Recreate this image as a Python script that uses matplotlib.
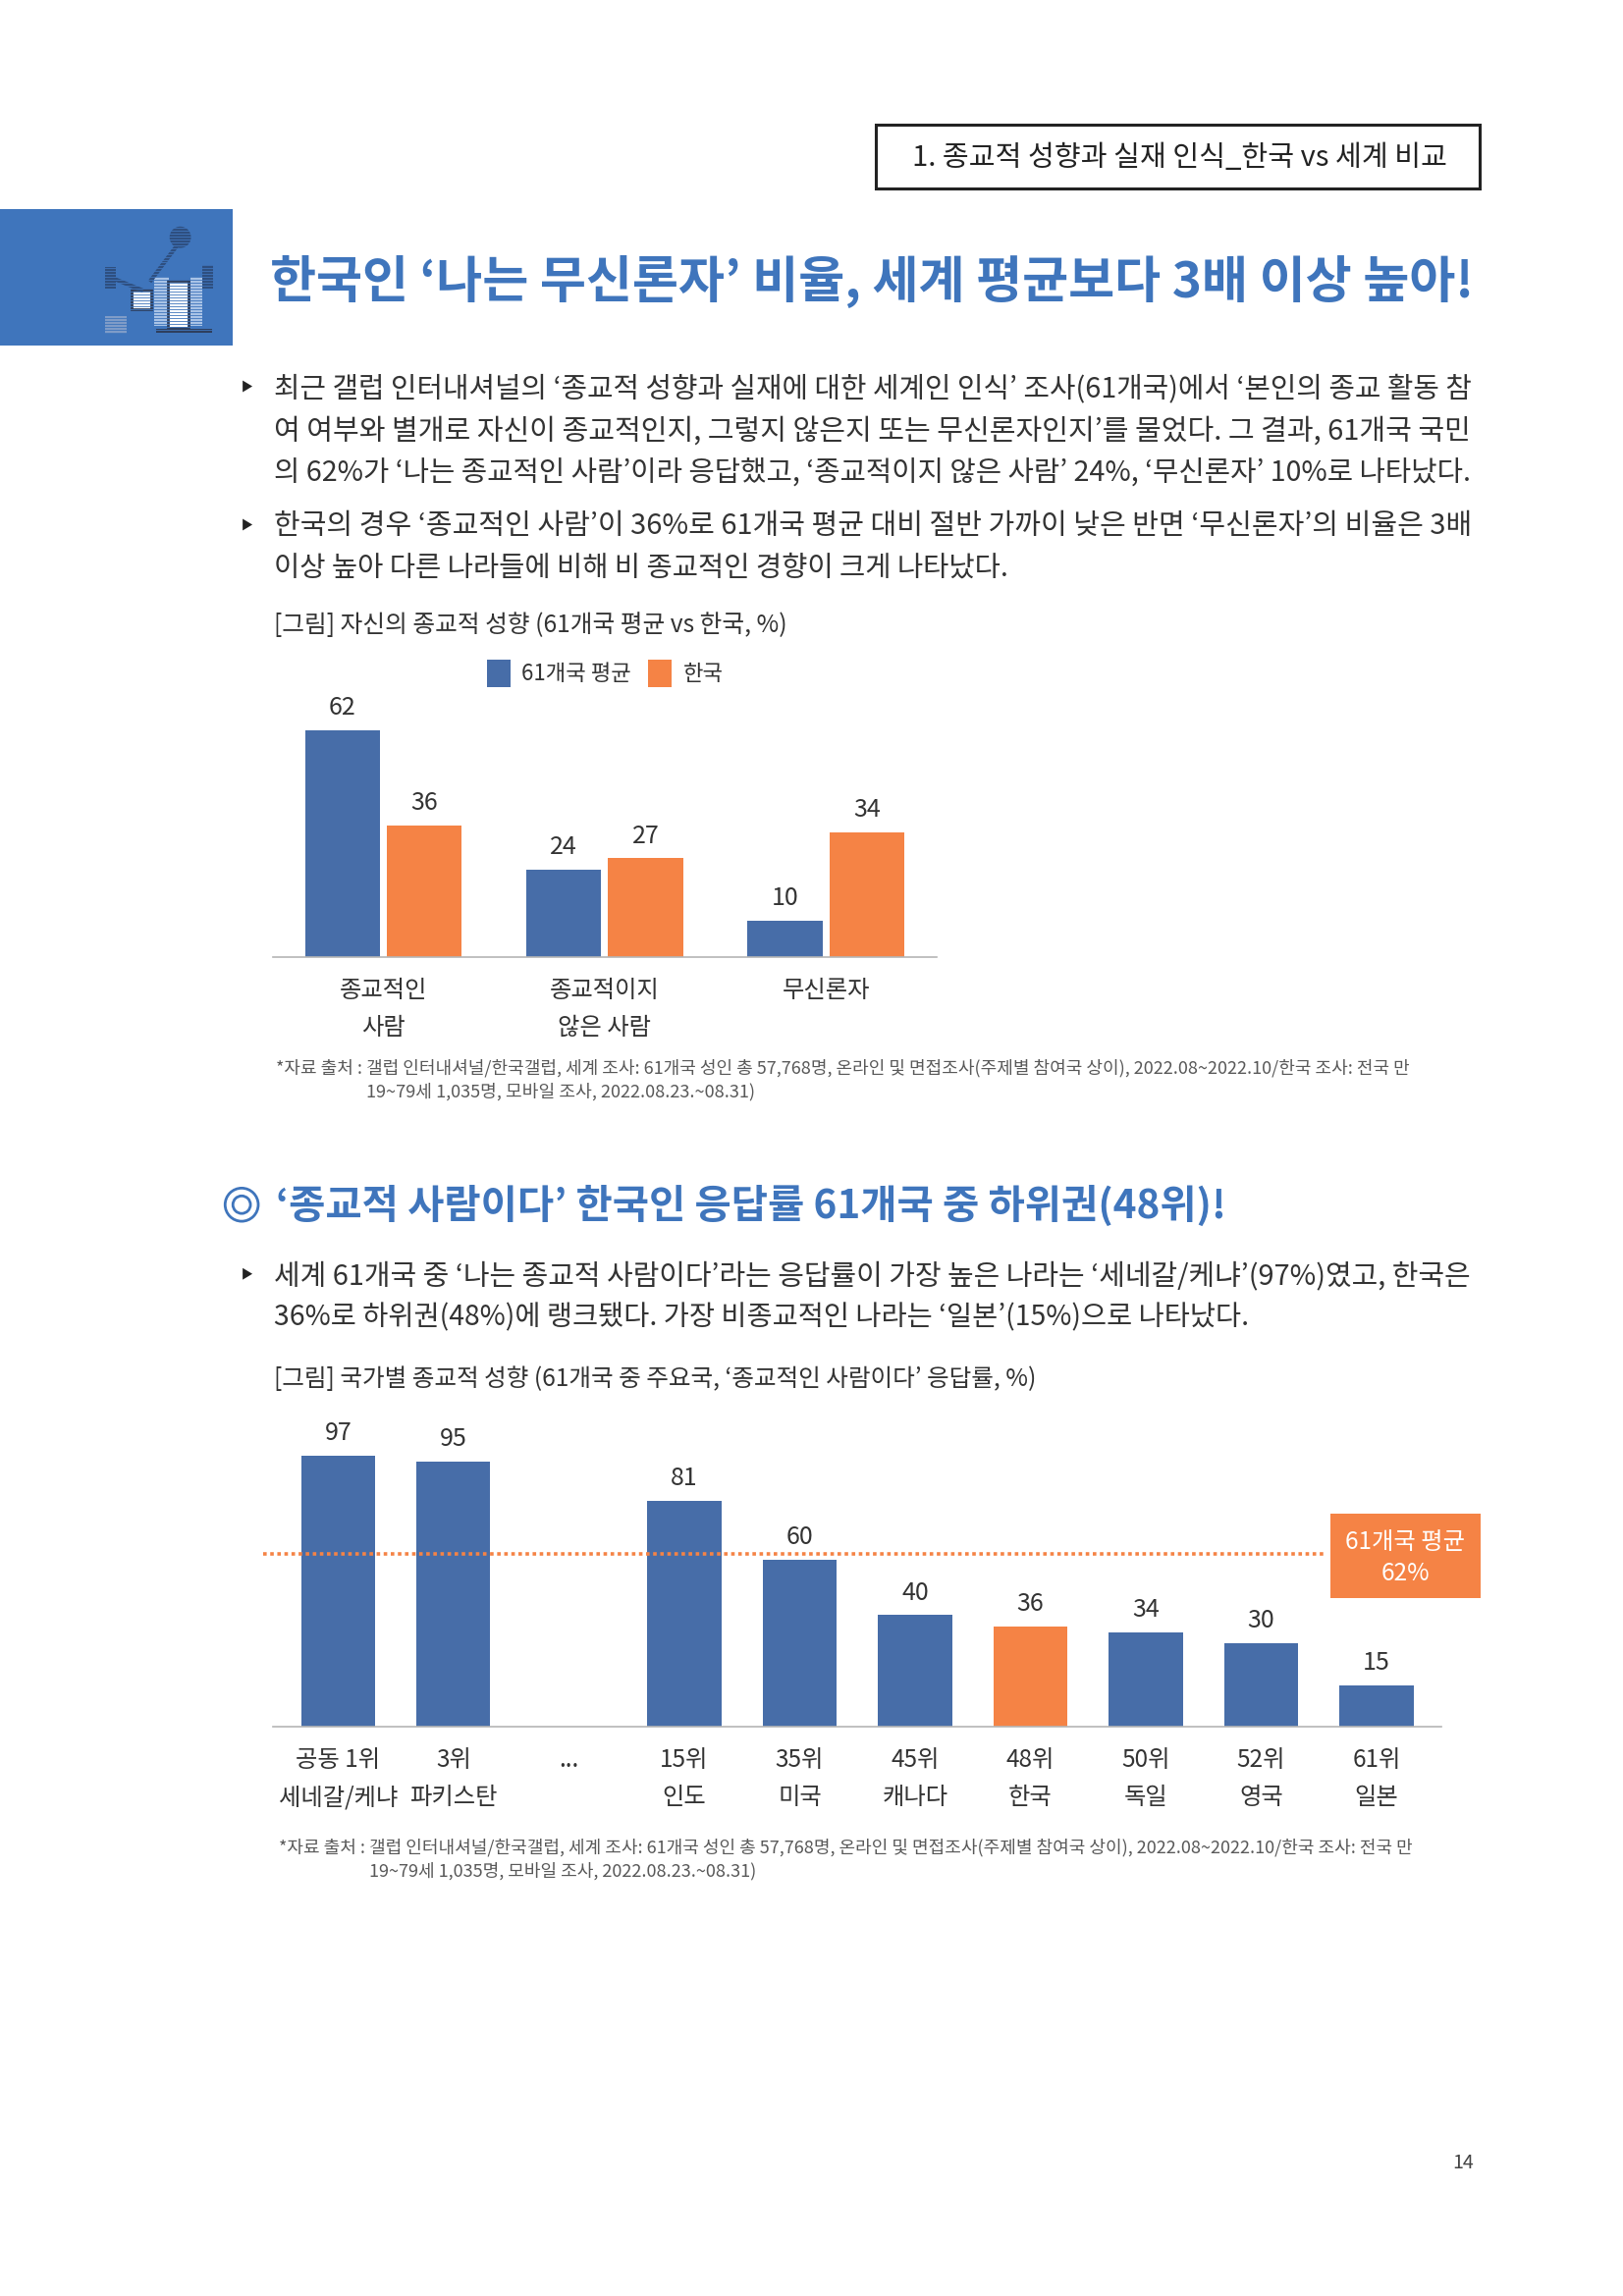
import matplotlib
matplotlib.use('Agg')
import matplotlib.pyplot as plt
from matplotlib.patches import Rectangle, Circle, Polygon
import numpy as np

plt.rcParams['font.family'] = ['Noto Sans CJK KR', 'DejaVu Sans']

W, H = 1653, 2339
S = 0.9925  # page coordinates below were read at a slightly larger scale
OY = 2.5
BLUE = '#476DA8'
ORANGE = '#F58345'
HEAD_BLUE = '#3F75BC'
TEXT = '#333333'
NOTE = '#595959'

# first chart
group_labels = ['종교적인\n사람', '종교적이지\n않은 사람', '무신론자']
series_names = ['61개국 평균', '한국']
world_values = [62, 24, 10]
korea_values = [36, 27, 34]

# second chart
rank_labels = ['공동 1위\n세네갈/케냐', '3위\n파키스탄', '...', '15위\n인도', '35위\n미국',
               '45위\n캐나다', '48위\n한국', '50위\n독일', '52위\n영국', '61위\n일본']
rank_values = [97, 95, np.nan, 81, 60, 40, 36, 34, 30, 15]
highlight = '48위\n한국'
world_average = 62

body_1 = [
    ('최근 갤럽 인터내셔널의 ‘종교적 성향과 실재에 대한 세계인 인식’ 조사(61개국)에서 ‘본인의 종교 활동 참', 1508, 397),
    ('여 여부와 별개로 자신이 종교적인지, 그렇지 않은지 또는 무신론자인지’를 물었다. 그 결과, 61개국 국민', 1508, 440),
    ('의 62%가 ‘나는 종교적인 사람’이라 응답했고, ‘종교적이지 않은 사람’ 24%, ‘무신론자’ 10%로 나타났다.', 1508, 483),
    ('한국의 경우 ‘종교적인 사람’이 36%로 61개국 평균 대비 절반 가까이 낮은 반면 ‘무신론자’의 비율은 3배', 1508, 538),
    ('이상 높아 다른 나라들에 비해 비 종교적인 경향이 크게 나타났다.', 1034, 580),
]
body_2 = [
    ('세계 61개국 중 ‘나는 종교적 사람이다’라는 응답률이 가장 높은 나라는 ‘세네갈/케냐’(97%)였고, 한국은', 1509, 1308),
    ('36%로 하위권(48%)에 랭크됐다. 가장 비종교적인 나라는 ‘일본’(15%)으로 나타났다.', 1279, 1350),
]
note_1 = '*자료 출처 : 갤럽 인터내셔널/한국갤럽, 세계 조사: 61개국 성인 총 57,768명, 온라인 및 면접조사(주제별 참여국 상이), 2022.08~2022.10/한국 조사: 전국 만'
note_2 = '19~79세 1,035명, 모바일 조사, 2022.08.23.~08.31)'

fig = plt.figure(figsize=(W / 100, H / 100), dpi=100)
renderer = fig.canvas.get_renderer()

page = fig.add_axes([0, 0, 1, 1])
page.set_xlim(0, W / S)
page.set_ylim((H - OY) / S, -OY / S)
page.axis('off')


def fit(s, x0, x1, y, size=20, color=TEXT, weight='light'):
    # one line of text, font size scaled so it spans x0..x1
    t = page.text(x0, y, s, fontsize=size, color=color, weight=weight, va='center', ha='left')
    t.set_fontsize(size * (x1 - x0) * S / t.get_window_extent(renderer).width)
    return t


def px_axes(left, top, right, bottom):
    left, right = left * S, right * S
    top, bottom = top * S + OY, bottom * S + OY
    ax = fig.add_axes([left / W, 1 - bottom / H, (right - left) / W, (bottom - top) / H])
    ax.patch.set_alpha(0)
    for side in ['top', 'left', 'right']:
        ax.spines[side].set_visible(False)
    ax.spines['bottom'].set_color('#b5b5b5')
    ax.spines['bottom'].set_linewidth(1.2)
    ax.set_yticks([])
    return ax


# header
page.add_patch(Rectangle((899, 125), 619, 66, fc='white', ec='#222222', lw=2.2))
fit('1. 종교적 성향과 실재 인식_한국 vs 세계 비교', 936, 1484, 160, color='#222222', weight='normal')

# blue tab with icon
page.add_patch(Rectangle((0, 212), 239, 140, fc=HEAD_BLUE, ec='none'))
page.plot([185, 155], [245, 285], color='#2E4F80', lw=3)
page.plot([113, 145], [282, 295], color='#2E4F80', lw=3)
page.add_patch(Circle((185, 241), 11, fc='#2E4F80', ec='none'))
page.add_patch(Rectangle((108, 272), 11, 22, fc='#2E4F80', ec='none'))
page.add_patch(Rectangle((208, 270), 11, 24, fc='#2E4F80', ec='none'))
page.add_patch(Rectangle((158, 282), 15, 50, fc='#A9C3E6', ec='none'))
page.add_patch(Rectangle((195, 282), 13, 50, fc='#A9C3E6', ec='none'))
page.add_patch(Rectangle((172, 286), 21, 48, fc='white', ec='#2E3F5E', lw=2))
page.add_patch(Rectangle((135, 295), 20, 20, fc='white', ec='#2E3F5E', lw=2))
page.add_patch(Rectangle((108, 322), 22, 18, fc='#7F9CC8', ec='none'))
page.add_patch(Rectangle((160, 335), 58, 4, fc='#2E3F5E', ec='none'))
# scan lines over the icon, the source image is badly interlaced
for y in np.arange(228, 344, 3):
    page.plot([100, 226], [y, y], color=HEAD_BLUE, lw=0.6)

fit('한국인 ‘나는 무신론자’ 비율, 세계 평균보다 3배 이상 높아!', 277, 1514, 287, size=36, color=HEAD_BLUE, weight='bold')

for s, x1, y in body_1 + body_2:
    fit(s, 281, x1, y)
for y in [394, 536, 1305]:
    page.add_patch(Polygon([[249, y - 6], [249, y + 6], [259, y]], fc='#222222', ec='none'))

fit('[그림] 자신의 종교적 성향 (61개국 평균 vs 한국, %)', 281, 807, 639)
fit(note_1, 283, 1444, 1094, color=NOTE)
fit(note_2, 376, 775, 1118, color=NOTE)

# section two heading
page.add_patch(Circle((248, 1234), 17, fc='none', ec=HEAD_BLUE, lw=2))
page.add_patch(Circle((248, 1234), 9, fc='none', ec=HEAD_BLUE, lw=2))
fit('‘종교적 사람이다’ 한국인 응답률 61개국 중 하위권(48위)!', 283, 1258, 1236, size=28, color=HEAD_BLUE, weight='bold')
fit('[그림] 국가별 종교적 성향 (61개국 중 주요국, ‘종교적인 사람이다’ 응답률, %)', 281, 1063, 1413)
fit(note_1, 286, 1447, 1894, color=NOTE)
fit(note_2, 379, 777, 1918, color=NOTE)
fit('14', 1490, 1512, 2218, color='#444444')

# grouped bars
ax1 = px_axes(280, 980 - 70 * 3.757, 961, 980)
x = np.arange(len(group_labels))
bars_a = ax1.bar(x - 0.185, world_values, 0.338, color=BLUE, label=series_names[0])
bars_b = ax1.bar(x + 0.185, korea_values, 0.338, color=ORANGE, label=series_names[1])
ax1.set_xlim(-0.5, 2.5)
ax1.set_ylim(0, 70)
ax1.set_xticks(x)
ax1.set_xticklabels(group_labels, fontsize=17.5, color=TEXT, weight='light', linespacing=1.62)
ax1.tick_params(axis='x', length=0, pad=15)
for bars in [bars_a, bars_b]:
    for b in bars:
        ax1.annotate(f'{b.get_height():.0f}', (b.get_x() + b.get_width() / 2, b.get_height()),
                     xytext=(0, 16.5), textcoords='offset points', ha='center', va='center',
                     fontsize=18, color=TEXT, weight='light')
ax1.legend(ncols=2, loc='center', bbox_to_anchor=(616 / W, 1 - 686 / H), bbox_transform=fig.transFigure,
           frameon=False, fontsize=16, handlelength=1.08, handleheight=1.5, handletextpad=0.5,
           columnspacing=0.8, labelcolor=TEXT)

# ranking bars
ax2 = px_axes(280, 1770 - 110 * 2.866, 1479, 1770)
xr = np.arange(len(rank_labels))
colors = [ORANGE if lab == highlight else BLUE for lab in rank_labels]
bars_r = ax2.bar(xr, rank_values, 0.64, color=colors)
ax2.set_xlim(-0.565, 9.56)
ax2.set_ylim(0, 110)
ax2.set_xticks(xr)
ax2.set_xticklabels(rank_labels, fontsize=17.5, color=TEXT, weight='light', linespacing=1.62)
ax2.tick_params(axis='x', length=0, pad=15)
for b in bars_r:
    h = b.get_height()
    if not np.isnan(h):
        ax2.annotate(f'{h:.0f}', (b.get_x() + b.get_width() / 2, h), xytext=(0, 16.5),
                     textcoords='offset points', ha='center', va='center',
                     fontsize=18, color=TEXT, weight='light')
ax2.plot([-0.008, 0.90], [world_average, world_average], transform=ax2.get_yaxis_transform(),
         color=ORANGE, lw=2.6, ls=(0, (1, 1)), clip_on=False)

page.add_patch(Rectangle((1365, 1551), 154, 87, fc=ORANGE, ec='none'))
page.text(1442, 1580, '61개국 평균', color='white', fontsize=17.5, weight='light', ha='center', va='center')
page.text(1442, 1613, f'{world_average}%', color='white', fontsize=17.5, weight='light', ha='center', va='center')

fig.savefig('out.png', dpi=100)
